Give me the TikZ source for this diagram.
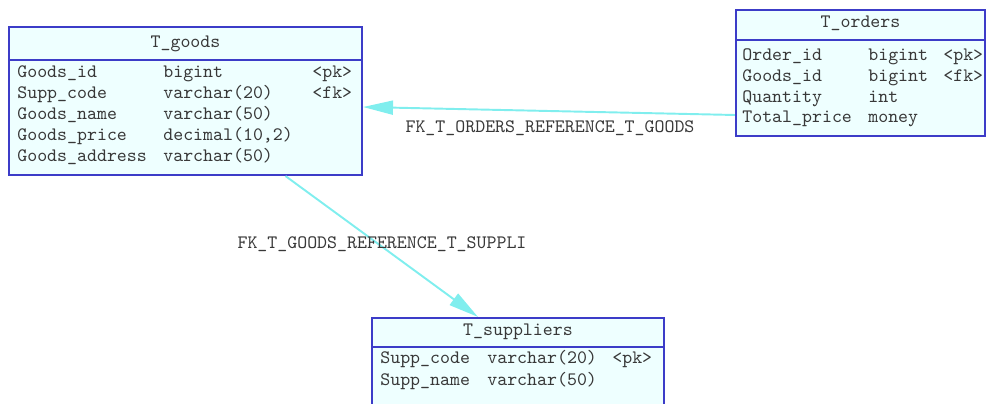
\documentclass[tikz,border=0pt]{standalone}
\usepackage{fontspec}
\usetikzlibrary{arrows.meta}
\definecolor{tblfill}{HTML}{EEFFFF}
\definecolor{tbldraw}{HTML}{3C3CC8}
\definecolor{fkline}{HTML}{80EEEE}
\definecolor{tbltext}{HTML}{383838}
\tikzset{
  tbl/.style={draw=tbldraw, line width=1.2pt, fill=tblfill, inner sep=0pt},
  hdr/.style={draw=tbldraw, line width=1.1pt},
  fld/.style={anchor=west, inner sep=0pt, text=tbltext, text height=7pt, text depth=2pt,
    font=\fontsize{10.8}{12}\selectfont\ttfamily},
  ttl/.style={inner sep=0pt, text=tbltext, text height=7pt, text depth=2pt,
    font=\fontsize{10.8}{12}\selectfont\ttfamily},
  fk/.style={draw=fkline, line width=1.1pt, -{Triangle[length=0.6cm, width=0.28cm]}},
  lbl/.style={inner sep=0pt, text=tbltext, font=\fontsize{10.8}{12}\selectfont\ttfamily}
}
\begin{document}
\begin{tikzpicture}[x=0.02cm, y=-0.02cm]
  \clip (0,0) rectangle (988,403);

  % T_goods
  \node[tbl, minimum width=7.06cm, minimum height=2.96cm] (goods) at (185.5,101) {};
  \draw[hdr] (goods.west |- 0,60) -- (goods.east |- 0,60);
  \node[ttl] (goodsttl) at (185.5,43) {T\_goods};
  \foreach \y/\n/\t/\k in {73/Goods\_id/bigint/<pk>, 94/Supp\_code/varchar(20)/<fk>,
      115/Goods\_name/varchar(50)/{}, 136/Goods\_price/{decimal(10,2)}/{},
      157/Goods\_address/varchar(50)/{}} {
    \node[fld] (goodsn\y) at (17,\y) {\n};
    \node[fld] (goodst\y) at (163,\y) {\t};
    \node[fld] (goodsk\y) at (312,\y) {\k};
  }

  % T_orders
  \node[tbl, minimum width=4.98cm, minimum height=2.52cm] (orders) at (860.5,73) {};
  \draw[hdr] (orders.west |- 0,40) -- (orders.east |- 0,40);
  \node[ttl] (ordersttl) at (860.5,23) {T\_orders};
  \foreach \y/\n/\t/\k in {56/Order\_id/bigint/<pk>, 77/Goods\_id/bigint/<fk>,
      98/Quantity/int/{}, 118/Total\_price/money/{}} {
    \node[fld] (ordersn\y) at (742,\y) {\n};
    \node[fld] (orderst\y) at (868,\y) {\t};
    \node[fld] (ordersk\y) at (943,\y) {\k};
  }

  % T_suppliers
  \node[tbl, minimum width=5.84cm, minimum height=2cm] (suppliers) at (518,368) {};
  \draw[hdr] (suppliers.west |- 0,347) -- (suppliers.east |- 0,347);
  \node[ttl] (suppliersttl) at (518,331) {T\_suppliers};
  \foreach \y/\n/\t/\k in {359/Supp\_code/varchar(20)/<pk>, 381/Supp\_name/varchar(50)/{}} {
    \node[fld] (suppliersn\y) at (380,\y) {\n};
    \node[fld] (supplierst\y) at (487,\y) {\t};
    \node[fld] (suppliersk\y) at (612,\y) {\k};
  }

  % References
  \draw[fk] ([yshift=-0.84cm]orders.west) -- ([yshift=-0.12cm]goods.east);
  \draw[fk] ([xshift=2cm]goods.south) -- ([xshift=-0.8cm]suppliers.north);
  \node[lbl] (fkorders) at (550,128) {FK\_T\_ORDERS\_REFERENCE\_T\_GOODS};
  \node[lbl] (fkgoods) at (382,244) {FK\_T\_GOODS\_REFERENCE\_T\_SUPPLI};
\end{tikzpicture}
\end{document}
